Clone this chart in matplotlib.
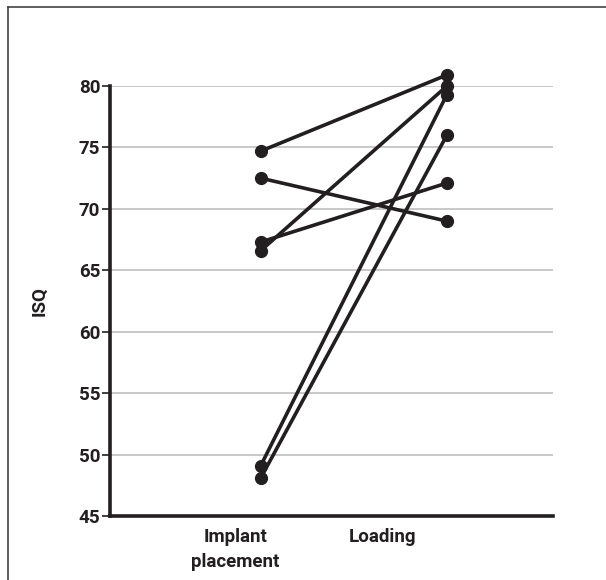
import matplotlib
matplotlib.use("Agg")
import matplotlib.pyplot as plt
from matplotlib.lines import Line2D

categories = ["Implant\nplacement", "Loading"]
implant_isq = [74.7, 72.5, 67.3, 66.6, 49.1, 48.1]
loading_isq = [80.9, 69.0, 72.1, 80.0, 79.3, 76.0]
y_ticks = [45, 50, 55, 60, 65, 70, 75, 80]

plt.rcParams['font.family'] = ['Roboto', 'DejaVu Sans']

W, H = 606, 580
fig = plt.figure(figsize=(W / 100, H / 100), dpi=100)
ax = fig.add_axes([110 / W, 1 - 516 / H, (553 - 110) / W, (516 - 86) / H])

dark = '#231f20'
fs = 13.5
fw = 'bold'
for a, b in zip(implant_isq, loading_isq):
    ax.plot([0, 1], [a, b], color=dark, lw=2.6, marker='o', markersize=8.5,
            solid_capstyle='round', clip_on=False, zorder=3)

ax.set_xlim(-0.81, 1.57)
ax.set_ylim(45, 80)
ax.set_yticks(y_ticks)
ax.set_yticklabels([str(t) for t in y_ticks], fontsize=fs, color=dark, fontweight=fw)
ax.yaxis.grid(True, color='#c8c8c8', lw=1.4)
ax.set_axisbelow(True)

# category labels (placed slightly left of the points, as in the reference)
ax.set_xticks([-0.135, 0.655])
ax.set_xticklabels(categories, fontsize=fs, color=dark, fontweight=fw, linespacing=1.45)
ax.tick_params(axis='x', length=0, pad=9)
ax.tick_params(axis='y', length=6, width=1.2, color=dark, pad=1)

for s in ['top', 'right']:
    ax.spines[s].set_visible(False)
for s in ['left', 'bottom']:
    ax.spines[s].set_color(dark)
    ax.spines[s].set_linewidth(2.6)

ax.set_ylabel("ISQ", fontsize=fs, color=dark, fontweight=fw, labelpad=22)

# outer frame (left and top edges)
fig.add_artist(Line2D([8 / W, 8 / W], [0, 1 - 7 / H], transform=fig.transFigure,
                      color='#444444', lw=1.2))
fig.add_artist(Line2D([8 / W, 1], [1 - 7 / H, 1 - 7 / H], transform=fig.transFigure,
                      color='#444444', lw=1.2))

fig.savefig("out.png", dpi=100)
